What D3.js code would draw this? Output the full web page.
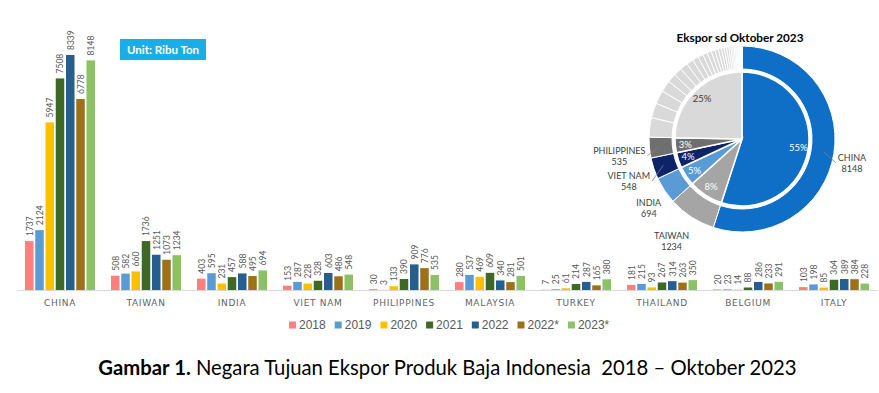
<!DOCTYPE html>
<html lang="id">
<head>
<meta charset="UTF-8">
<title>Negara Tujuan Ekspor Produk Baja Indonesia</title>
<script src="https://cdn.jsdelivr.net/npm/d3@7"></script>
<style>
	body { margin: 0; background: #fff; }
	svg { display: block; font-family: Lato, "Liberation Sans", sans-serif; }
</style>
</head>
<body>
<svg id="chart" width="879" height="393"></svg>
<script>
// bar chart data (ribu ton)
var countries = ["CHINA", "TAIWAN", "INDIA", "VIET NAM", "PHILIPPINES", "MALAYSIA", "TURKEY", "THAILAND", "BELGIUM", "ITALY"];
var years = ["2018", "2019", "2020", "2021", "2022", "2022*", "2023*"];
var v2018 = [1737, 508, 403, 153, 30, 280, 7, 181, 20, 103];
var v2019 = [2124, 582, 595, 287, 3, 537, 25, 215, 23, 198];
var v2020 = [5947, 660, 231, 228, 133, 469, 61, 93, 14, 85];
var v2021 = [7508, 1736, 457, 328, 390, 609, 214, 267, 88, 364];
var v2022 = [8339, 1251, 588, 603, 909, 340, 287, 314, 286, 389];
var v2022p = [6778, 1073, 495, 486, 776, 281, 165, 263, 233, 384];
var v2023p = [8148, 1234, 694, 548, 535, 501, 380, 350, 291, 228];
var yearColors = ["#ff7f7f", "#5b9bd5", "#ffc000", "#3d6826", "#255e91", "#9c7217", "#8cc168"];

// pie data: ekspor sd Oktober 2023
var pieNames = ["CHINA", "TAIWAN", "INDIA", "VIET NAM", "PHILIPPINES"];
var pieValues = [8148, 1234, 694, 548, 535];
var pieColors = ["#0f6fc6", "#a5a5a5", "#5b9bd5", "#0e2468", "#6f6f6f"];
// remaining destinations (outer ring)
var otherValues = [501, 380, 350, 291, 228, 215, 200, 178, 155, 135, 120, 108, 97, 88, 80, 72, 65, 58, 52, 46, 40, 35, 30, 26, 22, 18, 15, 12, 10, 8, 6, 5, 4, 3, 2, 1];
var otherColor = "#d9d9d9";
var pieLeader = ["CHINA", "VIET NAM", "PHILIPPINES"];

var svg = d3.select("#chart");
var baseY = 290;

var series = [v2018, v2019, v2020, v2021, v2022, v2022p, v2023p];

var x0 = d3.scaleBand().domain(countries).range([17, 877]).paddingInner(0.186).paddingOuter(0.093);
var x1 = d3.scaleBand().domain(years).range([0, x0.bandwidth()]).paddingInner(0.17);
var y = d3.scaleLinear().domain([0, d3.max(series, function(s) { return d3.max(s); })]).range([baseY, 55]);

var rows = [];
countries.forEach(function(c, i) {
	years.forEach(function(yr, j) {
		rows.push({ c: c, yr: yr, v: series[j][i], color: yearColors[j] });
	});
});

// bars
svg.append("g").selectAll("rect")
	.data(rows)
	.enter().append("rect")
	.attr("x", function(d) { return x0(d.c) + x1(d.yr); })
	.attr("y", function(d) { return y(d.v); })
	.attr("width", x1.bandwidth())
	.attr("height", function(d) { return baseY - y(d.v); })
	.attr("fill", function(d) { return d.color; });

// value labels
svg.append("g").selectAll("text")
	.data(rows)
	.enter().append("text")
	.attr("transform", function(d) {
		return "translate(" + (x0(d.c) + x1(d.yr) + x1.bandwidth() / 2 + 0.5) + "," + (y(d.v) - 5) + ")rotate(-90)";
	})
	.attr("dy", "0.35em")
	.style("font-size", "8.5px")
	.style("fill", "#595959")
	.text(function(d) { return d.v; });

// category axis
var axis = svg.append("g")
	.attr("transform", "translate(0," + baseY + ")")
	.call(d3.axisBottom(x0).tickSize(0).tickSizeOuter(0).tickPadding(9.5));
axis.select(".domain").attr("stroke", "#d9d9d9");
axis.selectAll("text")
	.style("font-family", "'DejaVu Sans', sans-serif")
	.style("font-size", "9px")
	.style("letter-spacing", "0.7px")
	.style("fill", "#646464");

// legend
var legend = svg.append("g").attr("transform", "translate(289,325)");
var lx = 0;
years.forEach(function(yr, j) {
	var item = legend.append("g").attr("transform", "translate(" + lx + ",0)");
	item.append("rect").attr("x", 0).attr("y", -3.5).attr("width", 7).attr("height", 7).attr("fill", yearColors[j]);
	var t = item.append("text")
		.attr("x", 10)
		.attr("dy", "0.35em")
		.style("font-family", "'Liberation Sans', sans-serif")
		.style("font-size", "12px")
		.style("fill", "#595959")
		.text(yr);
	lx += 10 + t.node().getComputedTextLength() + 9;
});

// unit box
svg.append("rect").attr("x", 120).attr("y", 39).attr("width", 86).attr("height", 21).attr("fill", "#19aee8");
svg.append("text")
	.attr("x", 163).attr("y", 50)
	.attr("text-anchor", "middle")
	.attr("dy", "0.35em")
	.style("font-size", "11.5px")
	.style("font-weight", "bold")
	.style("fill", "#fff")
	.text("Unit: Ribu Ton");

// ---- pie ----
var cx = 742, cy = 139;
var pieG = svg.append("g").attr("transform", "translate(" + cx + "," + cy + ")");
var otherSum = d3.sum(otherValues);
var innerVals = pieValues.concat([otherSum]);
var innerCols = pieColors.concat([otherColor]);
var total = d3.sum(innerVals);

// rounded percentages that add to 100
var raw = innerVals.map(function(v) { return v / total * 100; });
var pct = raw.map(Math.floor);
var left = 100 - d3.sum(pct);
raw.map(function(r, i) { return { i: i, r: r - Math.floor(r) }; })
	.sort(function(a, b) { return b.r - a.r; })
	.slice(0, left)
	.forEach(function(o) { pct[o.i] += 1; });

var pie = d3.pie().sort(null).value(function(d) { return d; });
var innerArc = d3.arc().innerRadius(0).outerRadius(67);
var ringArc = d3.arc().innerRadius(70).outerRadius(93);

var innerData = pie(innerVals);
pieG.append("g").selectAll("path")
	.data(innerData)
	.enter().append("path")
	.attr("d", innerArc)
	.attr("fill", function(d, i) { return innerCols[i]; })
	.attr("stroke", "#fff")
	.attr("stroke-width", 1.5);

var ringVals = pieValues.concat(otherValues);
var ringData = pie(ringVals);
pieG.append("g").selectAll("path")
	.data(ringData)
	.enter().append("path")
	.attr("d", ringArc)
	.attr("fill", function(d, i) { return i < pieColors.length ? pieColors[i] : otherColor; })
	.attr("stroke", "#fff")
	.attr("stroke-width", 1);

function polar(a, r) { return [Math.sin(a) * r, -Math.cos(a) * r]; }

// percent labels
pieG.append("g").selectAll("text")
	.data(innerData)
	.enter().append("text")
	.attr("transform", function(d) {
		var p = polar((d.startAngle + d.endAngle) / 2, 57);
		return "translate(" + p[0] + "," + p[1] + ")";
	})
	.attr("text-anchor", "middle")
	.attr("dy", "0.35em")
	.style("font-size", "9.5px")
	.style("fill", function(d, i) { return i == innerVals.length - 1 ? "#404040" : "#fff"; })
	.text(function(d, i) { return pct[i] + "%"; });

// country labels outside the ring: block edge touches the anchor point
pieNames.forEach(function(name, i) {
	var d = ringData[i];
	var a = (d.startAngle + d.endAngle) / 2;
	var ax = polar(a, 97)[0];
	var ay = polar(a, 114)[1] + 6;
	var out = ax > 0 ? 1 : -1;
	var t = pieG.append("text")
		.attr("text-anchor", "middle")
		.style("font-size", "9px")
		.style("fill", "#404040");
	var l1 = t.append("tspan").attr("y", ay - 2).text(name);
	var l2 = t.append("tspan").attr("y", ay + 9).text(pieValues[i]);
	var w = Math.max(l1.node().getComputedTextLength(), l2.node().getComputedTextLength());
	var tx = ax + out * w / 2;
	l1.attr("x", tx);
	l2.attr("x", tx);
	if (pieLeader.indexOf(name) >= 0) {
		var p0 = polar(a, 83);
		pieG.append("line")
			.attr("x1", p0[0]).attr("y1", p0[1])
			.attr("x2", ax - out * 2).attr("y2", ay)
			.attr("stroke", "#7f7f7f")
			.attr("stroke-width", 0.8);
	}
});

var title = svg.append("text")
	.attr("x", 740).attr("y", 42)
	.attr("text-anchor", "middle")
	.style("font-size", "13px")
	.style("font-weight", "bold")
	.style("fill", "#000")
	.text("Ekspor sd Oktober 2023");
title.style("font-size", (13 * 127 / title.node().getComputedTextLength()) + "px");

// caption
var cap = svg.append("text")
	.attr("x", 447.5).attr("y", 375)
	.attr("text-anchor", "middle")
	.style("font-size", "18px")
	.style("fill", "#000");
cap.append("tspan").style("font-weight", "bold").text("Gambar 1.");
cap.append("tspan").text(" Negara Tujuan Ekspor Produk Baja Indonesia \u00a02018 \u2013 Oktober 2023");
var cw = cap.node().getComputedTextLength();
cap.style("font-size", (18 * 699 / cw) + "px");
</script>
</body>
</html>
